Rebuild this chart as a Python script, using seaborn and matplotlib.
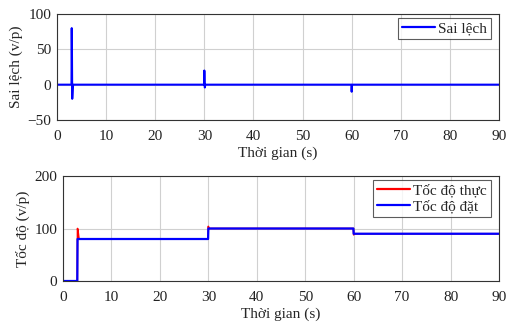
import numpy as np
import pandas as pd
import matplotlib.pyplot as plt
import seaborn as sns

# values
err_time = [0, 2.95, 3.0, 3.05, 3.1, 3.2, 3.3, 29.95, 30.0, 30.05, 30.1, 30.2, 59.95, 60.0, 60.05, 60.1, 90]
err_value = [0, 0, 80, 40, -20, -5, 0, 0, 20, 5, -4, 0, 0, -10, -3, 0, 0]

set_time = [0, 2.95, 3.0, 29.95, 30.0, 59.95, 60.0, 90]
set_value = [0, 0, 80, 80, 100, 100, 90, 90]

real_time = [0, 2.95, 3.0, 3.1, 3.3, 29.95, 30.0, 30.1, 30.3, 59.95, 60.0, 60.2, 90]
real_value = [0, 0, 100, 95, 80, 80, 104, 100, 100, 100, 88, 90, 90]

sns.set_style("white")
plt.rcParams['font.family'] = ['Liberation Serif', 'DejaVu Serif']
plt.rcParams['font.size'] = 11

fig = plt.figure(figsize=(5.08, 3.24), dpi=100)
ax1 = fig.add_axes([57 / 508, 1 - 120 / 324, 442 / 508, 106 / 324])
ax2 = fig.add_axes([63 / 508, 1 - 281 / 324, 436 / 508, 105 / 324])

err_df = pd.DataFrame({'t': err_time, 'v': err_value})
sns.lineplot(data=err_df, x='t', y='v', ax=ax1, color='#0000ff', lw=1.5,
             label='Sai lệch', estimator=None, sort=False)

real_df = pd.DataFrame({'t': real_time, 'v': real_value})
set_df = pd.DataFrame({'t': set_time, 'v': set_value})
sns.lineplot(data=real_df, x='t', y='v', ax=ax2, color='#ff0000', lw=1.2,
             label='Tốc độ thực', estimator=None, sort=False)
sns.lineplot(data=set_df, x='t', y='v', ax=ax2, color='#0000ff', lw=1.6,
             label='Tốc độ đặt', estimator=None, sort=False)

ax1.set_ylim(-50, 100)
ax1.set_yticks([-50, 0, 50, 100])
ax1.set_ylabel('Sai lệch (v/p)', labelpad=3)
ax2.set_ylim(0, 200)
ax2.set_yticks([0, 100, 200])
ax2.set_ylabel('Tốc độ (v/p)', labelpad=3)

for ax in (ax1, ax2):
    w = ax.get_position().width * 508
    h = ax.get_position().height * 324
    ax.set_xlim(0, 90)
    ax.set_xticks(range(0, 91, 10))
    ax.set_xlabel('Thời gian (s)', labelpad=3)
    ax.grid(True, color='#d0d0d0', lw=0.8)
    ax.set_axisbelow(True)
    for s in ax.spines.values():
        s.set_color('#333333')
        s.set_linewidth(0.8)
    ax.tick_params(axis='x', length=0, pad=7, colors='#222222')
    ax.tick_params(axis='y', length=0, pad=4, colors='#222222')
    leg = ax.legend(loc='upper right', bbox_to_anchor=(1 - 8 / w, 1 - 4 / h),
                    frameon=True, fancybox=False, edgecolor='#333333',
                    borderpad=0.25, handlelength=2.2, handletextpad=0.2,
                    labelspacing=0.15, borderaxespad=0)
    leg.get_frame().set_linewidth(0.8)
    for line in leg.get_lines():
        line.set_linewidth(1.6)

fig.savefig('out.png', dpi=100)
